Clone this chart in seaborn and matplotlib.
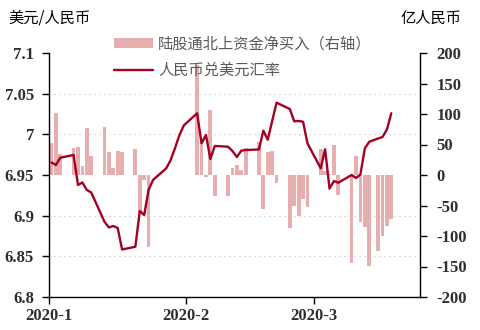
import matplotlib
matplotlib.use("Agg")
import matplotlib.pyplot as plt
import seaborn as sns
import pandas as pd
from matplotlib.patches import Patch
from matplotlib.lines import Line2D

# ---------------- data ----------------
bar_dates = ["2020-01-01", "2020-01-02", "2020-01-03", "2020-01-06", "2020-01-07",
             "2020-01-08", "2020-01-09", "2020-01-10", "2020-01-13", "2020-01-14",
             "2020-01-15", "2020-01-16", "2020-01-17", "2020-01-20", "2020-01-21",
             "2020-01-22", "2020-01-23",
             "2020-02-03", "2020-02-04", "2020-02-05", "2020-02-06", "2020-02-07",
             "2020-02-10", "2020-02-11", "2020-02-12", "2020-02-13", "2020-02-14",
             "2020-02-17", "2020-02-18", "2020-02-19", "2020-02-20", "2020-02-21",
             "2020-02-24", "2020-02-25", "2020-02-26", "2020-02-27", "2020-02-28",
             "2020-03-02", "2020-03-03", "2020-03-04", "2020-03-05", "2020-03-06",
             "2020-03-09", "2020-03-10", "2020-03-11", "2020-03-12", "2020-03-13",
             "2020-03-15", "2020-03-16", "2020-03-17", "2020-03-18"]
bar_values = [52, 102, 34, 44, 46, 15, 77, 31, 79, 37, 11, 39, 37, 42, -60, -8, -118,
              181, 52, -4, 107, -34, -34, 11, 16, 8, 44,
              54, -55, 37, 39, -13, -87, -50, -68, -40, -53,
              43, 7, 2, 49, -32, -144, 31, -77, -85, -149,
              -124, -100, -83, -72]

rate_dates = ["2020-01-01", "2020-01-02", "2020-01-03", "2020-01-06", "2020-01-07",
              "2020-01-08", "2020-01-09", "2020-01-10", "2020-01-13", "2020-01-14",
              "2020-01-15", "2020-01-16", "2020-01-17", "2020-01-20", "2020-01-21",
              "2020-01-22", "2020-01-23", "2020-01-24", "2020-01-27", "2020-01-28",
              "2020-01-29", "2020-01-30", "2020-01-31",
              "2020-02-03", "2020-02-04", "2020-02-05", "2020-02-06", "2020-02-07",
              "2020-02-10", "2020-02-11", "2020-02-12", "2020-02-13", "2020-02-14",
              "2020-02-17", "2020-02-18", "2020-02-19", "2020-02-20", "2020-02-21",
              "2020-02-24", "2020-02-25", "2020-02-26", "2020-02-27", "2020-02-28",
              "2020-03-02", "2020-03-03", "2020-03-04", "2020-03-05", "2020-03-06",
              "2020-03-09", "2020-03-10", "2020-03-11", "2020-03-12", "2020-03-13",
              "2020-03-15", "2020-03-16", "2020-03-17", "2020-03-18"]
rate_values = [6.9654, 6.9623, 6.9713, 6.9746, 6.9377, 6.9408, 6.9316, 6.9285,
               6.8926, 6.8855, 6.8873, 6.8848, 6.8584, 6.8618, 6.9057, 6.9008,
               6.9316, 6.9439, 6.9582, 6.9684, 6.9832, 6.9992, 7.0111,
               7.0259, 6.9890, 6.9992, 6.9697, 6.9857, 6.9848, 6.9795, 6.9721,
               6.9799, 6.9807, 6.9814, 7.0045, 6.9934, 7.0164, 7.0389, 7.0311,
               7.0160, 7.0164, 7.0155, 6.9890, 6.9582, 6.9816, 6.9332, 6.9426,
               6.9405, 6.9500, 6.9463, 6.9506, 6.9828, 6.9909, 6.9949, 6.9967,
               7.0059, 7.0259]

left_ticks = [6.8, 6.85, 6.9, 6.95, 7.0, 7.05, 7.1]
left_labels = ["6.8", "6.85", "6.9", "6.95", "7", "7.05", "7.1"]
right_ticks = [-200, -150, -100, -50, 0, 50, 100, 150, 200]
right_labels = ["-200", "-150", "-100", "-50", "0", "50", "100", "150", "200"]
x_tick_dates = ["2020-01-01", "2020-02-01", "2020-03-01"]
x_tick_labels = ["2020-1", "2020-2", "2020-3"]
x_end_date = "2020-03-25"

bar_label = "陆股通北上资金净买入（右轴）"
line_label = "人民币兑美元汇率"
left_title = "美元/人民币"
right_title = "亿人民币"

# ---------------- styling ----------------
sns.set_style("white")
plt.rcParams["font.family"] = ["Noto Sans CJK SC", "DejaVu Sans"]
plt.rcParams["axes.unicode_minus"] = False

BAR_COLOR = "#E6AEAE"
LINE_COLOR = "#A50021"
GRID_COLOR = "#BFBFBF"
TICK_COLOR = "#2E2E2E"

origin = pd.Timestamp("2020-01-01")
def day_pos(dates, offset=0.5):
    return ((pd.to_datetime(dates) - origin).days + offset).to_numpy(dtype=float)

bar_x = day_pos(bar_dates)
rate_x = day_pos(rate_dates)
xt = day_pos(x_tick_dates, 0.0)
x_end = day_pos([x_end_date], 0.0)[0]

fig = plt.figure(figsize=(4.8, 3.3), dpi=100)
L, R, T, B = 49.3, 420.0, 53.0, 297.0
ax = fig.add_axes([L / 480, 1 - B / 330, (R - L) / 480, (B - T) / 330])
ax2 = ax.twinx()

# bars on the right-hand axis
sns.barplot(x=bar_x, y=bar_values, native_scale=True, orient="x", ax=ax2,
            color=BAR_COLOR, saturation=1, width=0.86, errorbar=None,
            edgecolor="none", linewidth=0, zorder=2)
# make every bar the same width in day units, centred on its date
for p, xc in zip(sorted(ax2.patches, key=lambda r: r.get_x()), sorted(bar_x)):
    p.set_width(0.86)
    p.set_x(xc - 0.43)
ax2.set_ylim(-200, 200)
ax2.set_yticks(right_ticks)
ax2.set_yticklabels(right_labels)

# gridlines at the left-axis levels, drawn behind the bars
lo, hi = 6.8, 7.1
grid_levels = [(v - lo) / (hi - lo) * 400 - 200 for v in left_ticks[1:]]
ax2.set_yticks(grid_levels, minor=True)
ax2.yaxis.grid(True, which="minor", linestyle=(0, (1, 3.5)), color=GRID_COLOR, lw=0.8)
ax2.yaxis.grid(False, which="major")
ax2.xaxis.grid(True, which="major", linestyle=(0, (1, 3.5)), color=GRID_COLOR, lw=0.8)
ax2.set_axisbelow(True)

# line on the left-hand axis, drawn above bars
sns.lineplot(x=rate_x, y=rate_values, ax=ax, color=LINE_COLOR, lw=1.7)
ax.set_zorder(ax2.get_zorder() + 1)
ax.patch.set_visible(False)
ax.set_ylim(lo, hi)
ax.set_yticks(left_ticks)
ax.set_yticklabels(left_labels)
ax.grid(False)

for a in (ax, ax2):
    a.set_xlim(0, x_end)
    a.set_xlabel("")
    a.set_ylabel("")
ax.set_xticks(xt)
ax.set_xticklabels(x_tick_labels)
ax2.set_xticks(xt)

tick_font = dict(family="Liberation Serif", size=12, weight="bold")
for lab in ax.get_yticklabels() + ax.get_xticklabels() + ax2.get_yticklabels():
    lab.set_fontproperties(tick_font)
    lab.set_color(TICK_COLOR)

ax.tick_params(axis="y", which="major", direction="out", length=5, width=1,
               color="black", pad=6, left=True)
ax.tick_params(axis="x", which="major", direction="out", length=5, width=1,
               color="black", pad=3, bottom=True)
ax2.tick_params(axis="y", which="major", direction="out", length=5, width=1,
                color="black", pad=7, right=True)
ax2.tick_params(axis="y", which="minor", length=0)

for a in (ax, ax2):
    for s in a.spines.values():
        s.set_visible(False)
for side in ("left", "bottom", "right"):
    ax2.spines[side].set_visible(True)
    ax2.spines[side].set_color("black")
    ax2.spines[side].set_linewidth(1.0)

# titles
fig.text(8 / 480, 1 - 18 / 330, left_title, ha="left", va="center", fontsize=11, color="black")
fig.text(462 / 480, 1 - 18 / 330, right_title, ha="right", va="center", fontsize=11, color="black")

# legend
handles = [Patch(facecolor=BAR_COLOR, edgecolor="none"),
           Line2D([0], [0], color=LINE_COLOR, lw=1.7)]
fig.legend(handles, [bar_label, line_label], loc="upper left",
           bbox_to_anchor=(106 / 480, 1 - 28 / 330), frameon=False, borderpad=0,
           handlelength=2.6, handleheight=0.65, handletextpad=0.3,
           labelspacing=0.62, fontsize=11, labelcolor="#595959")

fig.savefig("out.png", dpi=100)
